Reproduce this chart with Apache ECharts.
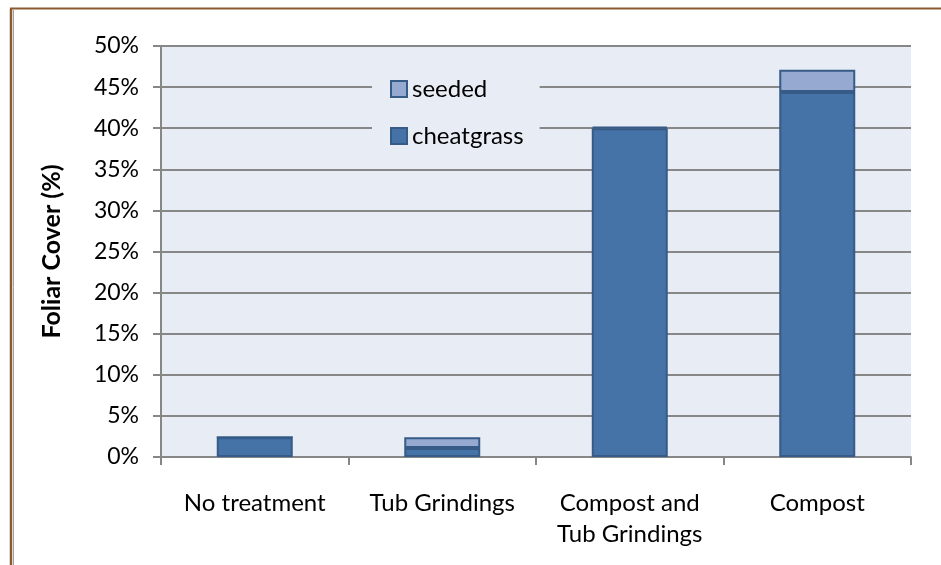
<!DOCTYPE html>
<html>
<head>
<meta charset="utf-8">
<script src="https://cdn.jsdelivr.net/npm/echarts@6/dist/echarts.min.js"></script>
<style>
  html, body { margin: 0; padding: 0; background: #ffffff; }
  #chart { width: 941px; height: 565px; }
</style>
</head>
<body>
<div id="chart"></div>
<script>
// Foliar cover by treatment (percent), stacked: cheatgrass at the bottom, seeded on top
const categories = ['No treatment', 'Tub Grindings', 'Compost and\nTub Grindings', 'Compost'];
const cheatgrass = [2.4, 1.1, 40.0, 44.4];
const seeded = [0, 1.3, 0.2, 2.7];
const yTicks = { min: 0, max: 50, interval: 5 };

const FONT = 'Lato, "Open Sans", sans-serif';
const GRID_GRAY = '#878787';

const chart = echarts.init(document.getElementById('chart'), null, { renderer: 'canvas' });

chart.setOption({
  backgroundColor: '#ffffff',
  animation: false,
  textStyle: { fontFamily: FONT, color: '#000' },
  grid: {
    left: 161, right: 30, top: 46, bottom: 108,
    show: true, backgroundColor: '#e8ecf4', borderWidth: 0
  },
  legend: {
    orient: 'vertical',
    left: 372, top: 63,
    padding: [14, 16, 14, 18],
    backgroundColor: '#e8ecf4',
    icon: 'rect',
    itemWidth: 16, itemHeight: 16, itemGap: 23,
    data: ['seeded', 'cheatgrass'],
    textStyle: { fontFamily: FONT, fontSize: 24, color: '#000', padding: [0, 0, 0, 0] }
  },
  xAxis: {
    type: 'category',
    data: categories,
    axisLine: { lineStyle: { color: GRID_GRAY, width: 2 } },
    axisTick: { show: true, interval: 0, length: 8, lineStyle: { color: GRID_GRAY, width: 2 } },
    axisLabel: { interval: 0, fontSize: 24, color: '#000', margin: 31, lineHeight: 31, fontFamily: FONT }
  },
  yAxis: {
    type: 'value',
    min: yTicks.min, max: yTicks.max, interval: yTicks.interval,
    name: 'Foliar Cover (%)',
    nameLocation: 'middle',
    nameGap: 97,
    nameRotate: 90,
    nameTextStyle: { fontSize: 25, fontWeight: 'bold', color: '#000', fontFamily: FONT },
    axisLine: { show: true, lineStyle: { color: GRID_GRAY, width: 2 } },
    axisTick: { show: true, length: 8, lineStyle: { color: GRID_GRAY, width: 2 } },
    splitLine: { lineStyle: { color: GRID_GRAY, width: 2 } },
    axisLabel: { fontSize: 23, color: '#000', margin: 22, formatter: '{value}%', fontFamily: FONT }
  },
  series: [
    {
      name: 'cheatgrass', type: 'bar', stack: 'cover', data: cheatgrass,
      barWidth: 76,
      itemStyle: { color: '#4572a7', borderColor: '#365b87', borderWidth: 2 }
    },
    {
      name: 'seeded', type: 'bar', stack: 'cover', data: seeded,
      barWidth: 76,
      itemStyle: { color: '#95a9d1', borderColor: '#365b87', borderWidth: 2 }
    }
  ],
  graphic: [
    // chart frame along the top and left edges
    { type: 'line', shape: { x1: 13.5, y1: 10, x2: 13.5, y2: 565 }, style: { stroke: '#a0a0a0', lineWidth: 1 }, z: 100 },
    { type: 'line', shape: { x1: 11, y1: 8.5, x2: 11, y2: 565 }, style: { stroke: '#8a5a2e', lineWidth: 2.5 }, z: 100 },
    { type: 'line', shape: { x1: 10, y1: 8.5, x2: 941, y2: 8.5 }, style: { stroke: '#8a5a2e', lineWidth: 2 }, z: 100 }
  ]
});
</script>
</body>
</html>
